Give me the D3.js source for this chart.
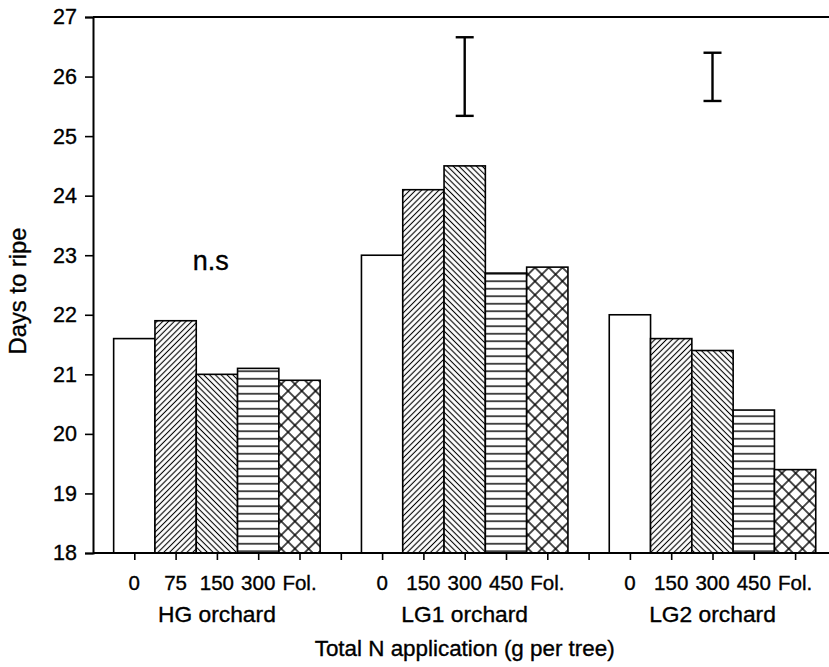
<!DOCTYPE html>
<html><head><meta charset="utf-8">
<script src="https://cdn.jsdelivr.net/npm/d3@7"></script>
<style>
html,body{margin:0;padding:0;background:#fff;}
text{font-family:"Liberation Sans",Arial,sans-serif;fill:#000;stroke:#000;stroke-width:0.35px;}
</style></head>
<body>
<script>
// ---- data ----
const groups = ["HG orchard", "LG1 orchard", "LG2 orchard"];
const treatmentLabels = [
  ["0", "75", "150", "300", "Fol."],
  ["0", "150", "300", "450", "Fol."],
  ["0", "150", "300", "450", "Fol."]
];
const hgValues  = [21.6, 21.9, 21.0, 21.1, 20.9];
const lg1Values = [23.0, 24.1, 24.5, 22.7, 22.8];
const lg2Values = [22.0, 21.6, 21.4, 20.4, 19.4];
const groupValues = [hgValues, lg1Values, lg2Values];
const patterns = ["none", "fwd", "back", "horiz", "cross"];
const yTicks = [18, 19, 20, 21, 22, 23, 24, 25, 26, 27];
// LSD bars: [group, treatment index, low, high]
const lsdBars = [
  [1, 2, 25.34, 26.66],
  [2, 2, 25.59, 26.40]
];
const nsNote = { group: 0, pos: 1.85, y: 22.75, text: "n.s" };
const yTitle = "Days to ripe";
const xTitle = "Total N application (g per tree)";

// ---- layout ----
const W = 829, H = 667;
const mLeft = 93, mTop = 17, mBottom = 553;
const slot = 41.3;
const svg = d3.select("body").append("svg").attr("width", W).attr("height", H);

const x = d3.scaleLinear().domain([0, 18]).range([mLeft, mLeft + 18 * slot]);
const y = d3.scaleLinear().domain([18, 27]).range([mBottom, mTop]);
const pos = (g, i) => 1 + g * 6 + i;

// patterns
const defs = svg.append("defs");
function linePattern(id, p, angle, cross, sw) {
  const pat = defs.append("pattern").attr("id", id).attr("patternUnits", "userSpaceOnUse")
    .attr("width", p).attr("height", p).attr("patternTransform", `rotate(${angle})`);
  pat.append("rect").attr("width", p).attr("height", p).attr("fill", "#fff");
  pat.append("line").attr("x1", -1).attr("x2", p + 1).attr("y1", p / 2).attr("y2", p / 2)
    .attr("stroke", "#000").attr("stroke-width", sw);
  if (cross) pat.append("line").attr("y1", -1).attr("y2", p + 1).attr("x1", p / 2).attr("x2", p / 2)
    .attr("stroke", "#000").attr("stroke-width", sw);
}
linePattern("fwd", 4.1, -45, false, 1.1);
linePattern("back", 4.1, 45, false, 1.1);
linePattern("horiz", 7.5, 0, false, 1.4);
linePattern("cross", 9.7, 45, true, 1.4);

// bars
const barData = [];
groupValues.forEach((vals, g) => vals.forEach((v, i) => barData.push({ g, i, v })));
svg.append("g").selectAll("rect").data(barData).join("rect")
  .attr("x", d => x(pos(d.g, d.i) - 0.5))
  .attr("width", d => x(pos(d.g, d.i) + 0.5) - x(pos(d.g, d.i) - 0.5))
  .attr("y", d => y(d.v))
  .attr("height", d => y(18) - y(d.v))
  .attr("fill", d => patterns[d.i] === "none" ? "#fff" : `url(#${patterns[d.i]})`)
  .attr("stroke", "#000").attr("stroke-width", 1.6);

// frame lines
svg.append("line").attr("x1", mLeft).attr("x2", W).attr("y1", mTop).attr("y2", mTop)
  .attr("stroke", "#000").attr("stroke-width", 2);

// y axis
const yAxis = svg.append("g").attr("transform", `translate(${mLeft},0)`)
  .call(d3.axisLeft(y).tickValues(yTicks).tickSize(8).tickPadding(8).tickFormat(d3.format("d")));
yAxis.select(".domain").attr("stroke-width", 2);
yAxis.selectAll(".tick line").attr("stroke-width", 1.6);
yAxis.selectAll("text").style("font-size", "21.5px").style("font-family", "Liberation Sans, Arial, sans-serif");

// x axis
const xTickVals = d3.range(1, 18);
const xAxis = svg.append("g").attr("transform", `translate(0,${mBottom})`)
  .call(d3.axisBottom(x).tickValues(xTickVals).tickSize(7).tickFormat(""));
xAxis.select(".domain").attr("d", `M${mLeft},0H${W}`).attr("stroke-width", 2);
xAxis.selectAll(".tick line").attr("stroke-width", 1.6);

// x tick labels
const labData = [];
treatmentLabels.forEach((labs, g) => labs.forEach((t, i) => labData.push({ g, i, t })));
svg.append("g").selectAll("text").data(labData).join("text")
  .attr("x", d => x(pos(d.g, d.i))).attr("y", 590)
  .attr("text-anchor", "middle").style("font-size", "20.5px").text(d => d.t);

// group labels
svg.append("g").selectAll("text").data(groups).join("text")
  .attr("x", (d, g) => x(pos(g, 2))).attr("y", 622)
  .attr("text-anchor", "middle").style("font-size", "22.8px").text(d => d);

// x title
svg.append("text").attr("x", (x(pos(0, 2)) + x(pos(2, 2))) / 2).attr("y", 656)
  .attr("text-anchor", "middle").style("font-size", "22.4px").text(xTitle);

// y title
svg.append("text").attr("transform", `translate(26,291) rotate(-90)`)
  .attr("text-anchor", "middle").style("font-size", "23.8px").text(yTitle);

// LSD bars
const capW = 9;
const lsd = svg.append("g").attr("stroke", "#000").attr("stroke-width", 2.4);
lsdBars.forEach(([g, i, lo, hi]) => {
  const cx = x(pos(g, i));
  lsd.append("line").attr("x1", cx).attr("x2", cx).attr("y1", y(lo)).attr("y2", y(hi));
  lsd.append("line").attr("x1", cx - capW).attr("x2", cx + capW).attr("y1", y(lo)).attr("y2", y(lo));
  lsd.append("line").attr("x1", cx - capW).attr("x2", cx + capW).attr("y1", y(hi)).attr("y2", y(hi));
});

// n.s
svg.append("text").attr("x", x(nsNote.group * 6 + 1 + nsNote.pos)).attr("y", y(nsNote.y))
  .attr("text-anchor", "middle").style("font-size", "27px").text(nsNote.text);
</script>
</body></html>
